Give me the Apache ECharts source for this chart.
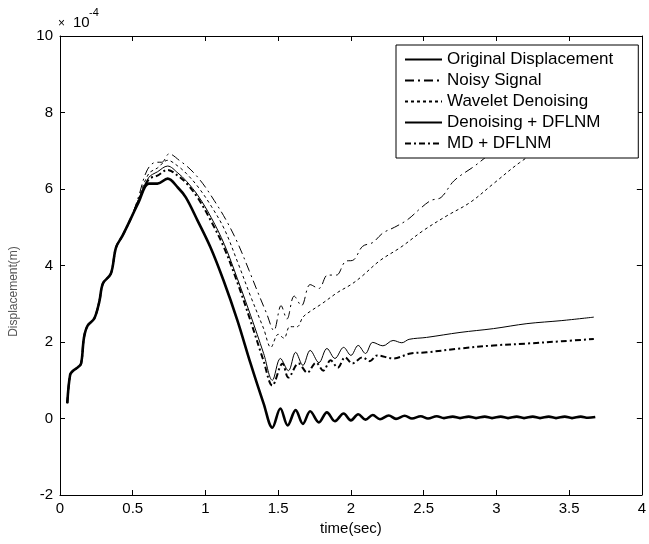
<!DOCTYPE html>
<html>
<head>
<meta charset="utf-8">
<script src="https://cdn.jsdelivr.net/npm/echarts@6/dist/echarts.min.js"></script>
<style>
html,body{margin:0;padding:0;background:#fff;}
#chart{width:649px;height:544px;}
</style>
</head>
<body>
<div id="chart"></div>
<script>
// ---- data (time in sec, displacement in 1e-4 m) ----
const xTicks = [0, 0.5, 1, 1.5, 2, 2.5, 3, 3.5, 4];
const yTicks = [-2, 0, 2, 4, 6, 8, 10];
const seriesNames = ['Original Displacement', 'Noisy Signal', 'Wavelet Denoising', 'Denoising + DFLNM', 'MD + DFLNM'];

// common rising part (all curves overlap here)
const rise = [[0.05,0.4],[0.07,1.15],[0.09,1.25],[0.12,1.33],[0.145,1.44],[0.165,2.12],[0.19,2.43],[0.235,2.61],[0.27,3.05],[0.295,3.53],[0.35,3.79],[0.385,4.47],[0.43,4.78],[0.49,5.25]];

const originalTail = [[0.54,5.65],[0.61,6.14],[0.67,6.14],[0.74,6.27],[0.81,6.04],[0.865,5.78],[0.945,5.18],[1.035,4.47],[1.125,3.6],[1.22,2.56],[1.31,1.44],[1.40,0.39],
 [1.46,-0.24],[1.515,0.26],[1.565,-0.18],[1.62,0.22],[1.67,-0.14],[1.72,0.19],[1.78,-0.1],[1.835,0.16],[1.89,-0.07],[1.95,0.13],[2.0,-0.05],[2.05,0.11],[2.1,-0.03],[2.15,0.09],[2.2,-0.02],[2.26,0.08],[2.31,-0.01],[2.37,0.07],[2.42,0.0],[2.48,0.06],[2.53,0.0],[2.59,0.06],[2.64,0.01],[2.7,0.05],[2.75,0.01],[2.81,0.05],[2.86,0.01],[2.92,0.05],[2.97,0.01],[3.03,0.05],[3.08,0.01],[3.14,0.05],[3.19,0.01],[3.25,0.05],[3.3,0.01],[3.36,0.05],[3.41,0.01],[3.47,0.05],[3.52,0.01],[3.58,0.05],[3.63,0.02],[3.68,0.04]];

const noisyTail = [[0.54,5.8],[0.6,6.5],[0.66,6.7],[0.7,6.7],[0.75,6.92],[0.82,6.75],[0.9,6.5],[0.98,6.15],[1.06,5.7],[1.14,5.2],[1.22,4.6],[1.3,3.87],[1.36,3.3],[1.42,2.75],[1.47,2.3],
 [1.52,2.95],[1.56,2.6],[1.61,3.2],[1.66,2.95],[1.72,3.5],[1.78,3.4],[1.84,3.75],[1.9,3.75],[1.96,4.1],[2.02,4.15],[2.08,4.5],[2.15,4.6],[2.22,4.85],[2.3,5.0],[2.39,5.2],[2.48,5.5],[2.55,5.7],[2.62,5.78],[2.71,6.22],[2.85,6.6],[2.95,6.9],[3.2,7.6],[3.45,8.4],[3.67,9.0]];

const waveletTail = [[0.54,5.75],[0.61,6.4],[0.67,6.55],[0.74,6.75],[0.81,6.6],[0.87,6.4],[0.95,6.05],[1.04,5.55],[1.13,4.95],[1.22,4.1],[1.31,3.2],[1.40,2.35],[1.45,1.86],
 [1.5,2.2],[1.54,2.1],[1.58,2.4],[1.63,2.4],[1.67,2.65],[1.72,2.8],[1.8,3.0],[1.91,3.3],[2.0,3.5],[2.07,3.7],[2.2,4.13],[2.34,4.47],[2.5,4.92],[2.66,5.3],[2.82,5.65],[2.98,6.14],[3.16,6.69],[3.4,7.3],[3.67,8.0]];

const denoisingTail = [[0.54,5.72],[0.61,6.3],[0.67,6.45],[0.74,6.6],[0.81,6.42],[0.87,6.2],[0.95,5.82],[1.04,5.25],[1.13,4.55],[1.22,3.65],[1.31,2.7],[1.40,1.7],[1.46,1.0],
 [1.515,1.57],[1.57,1.25],[1.62,1.73],[1.67,1.39],[1.72,1.78],[1.78,1.46],[1.835,1.83],[1.89,1.57],[1.95,1.86],[2.0,1.65],[2.05,1.91],[2.1,1.70],[2.15,1.99],[2.22,1.9],[2.29,2.04],[2.35,1.98],[2.4,2.07],[2.52,2.12],[2.75,2.25],[2.98,2.35],[3.21,2.48],[3.45,2.56],[3.67,2.65]];

const mdTail = [[0.54,5.7],[0.61,6.25],[0.67,6.35],[0.74,6.5],[0.81,6.35],[0.87,6.15],[0.95,5.75],[1.04,5.15],[1.13,4.45],[1.22,3.55],[1.31,2.55],[1.40,1.5],[1.46,0.86],
 [1.53,1.44],[1.57,1.07],[1.64,1.44],[1.70,1.2],[1.76,1.46],[1.81,1.25],[1.86,1.52],[1.91,1.33],[1.96,1.6],[2.01,1.44],[2.08,1.6],[2.13,1.5],[2.18,1.65],[2.29,1.57],[2.41,1.70],[2.52,1.73],[2.75,1.83],[2.98,1.91],[3.21,1.96],[3.45,2.02],[3.67,2.08]];

const lineData = [
  rise.concat(originalTail),
  rise.concat(noisyTail),
  rise.concat(waveletTail),
  rise.concat(denoisingTail),
  rise.concat(mdTail)
];
const lineStyles = [
  {width: 2.6, type: 'solid'},
  {width: 1, type: [9, 4, 2, 4]},
  {width: 1, type: [3, 3]},
  {width: 1, type: 'solid'},
  {width: 2, type: [6, 3, 2, 3]}
];

const FONT = "'Liberation Sans',Arial,sans-serif";
const chart = echarts.init(document.getElementById('chart'), null, {renderer: 'canvas'});

const axisCommon = {
  axisLine: {show: true, onZero: false, lineStyle: {color: '#000', width: 1}},
  axisTick: {show: true, inside: true, length: 5, lineStyle: {color: '#000'}},
  splitLine: {show: false}
};

const option = {
  backgroundColor: '#fff',
  animation: false,
  grid: {left: 59, right: 7, top: 36, bottom: 49, containLabel: false},
  legend: {
    orient: 'vertical',
    left: 396, top: 45,
    data: seriesNames,
    itemWidth: 37, itemHeight: 14, itemGap: 4,
    padding: [6, 25, 6, 8],
    backgroundColor: '#fff',
    borderColor: '#000', borderWidth: 1, borderRadius: 0,
    itemStyle: {color: 'rgba(0,0,0,0)', borderWidth: 0, opacity: 0},
    textStyle: {color: '#000', fontSize: 17, fontFamily: FONT},
    z: 10
  },
  xAxis: [
    Object.assign({type: 'value', min: xTicks[0], max: xTicks[xTicks.length-1], interval: 0.5, position: 'bottom',
      name: 'time(sec)', nameLocation: 'middle', nameGap: 19,
      nameTextStyle: {color: '#000', fontSize: 15, fontFamily: FONT},
      axisLabel: {color: '#000', fontSize: 15, fontFamily: FONT, margin: 6}}, axisCommon),
    Object.assign({type: 'value', min: xTicks[0], max: xTicks[xTicks.length-1], interval: 0.5, position: 'top',
      axisLabel: {show: false}}, axisCommon)
  ],
  yAxis: [
    Object.assign({type: 'value', min: yTicks[0], max: yTicks[yTicks.length-1], interval: 2, position: 'left',
      name: 'Displacement(m)', nameLocation: 'middle', nameGap: 40,
      nameTextStyle: {color: '#555', fontSize: 12, fontFamily: FONT, padding: [0, 52, 0, 0]},
      axisLabel: {color: '#000', fontSize: 15, fontFamily: FONT, margin: 7}}, axisCommon),
    Object.assign({type: 'value', min: yTicks[0], max: yTicks[yTicks.length-1], interval: 2, position: 'right',
      axisLabel: {show: false}}, axisCommon)
  ],
  graphic: [
    {type: 'text', left: 58, top: 18, style: {text: '×', fill: '#000', font: '12px ' + FONT}},
    {type: 'text', left: 73, top: 15, style: {text: '10', fill: '#000', font: '15px ' + FONT}},
    {type: 'text', left: 89, top: 7, style: {text: '-4', fill: '#000', font: '11px ' + FONT}}
  ],
  series: seriesNames.map((n, i) => ({
    name: n,
    type: 'line',
    data: lineData[i],
    symbol: 'none',
    showSymbol: false,
    smooth: 0.35,
    clip: true,
    lineStyle: Object.assign({color: '#000'}, lineStyles[i]),
    itemStyle: {color: 'rgba(0,0,0,0)', borderWidth: 0},
    z: 2
  }))
};
chart.setOption(option);
</script>
</body>
</html>
